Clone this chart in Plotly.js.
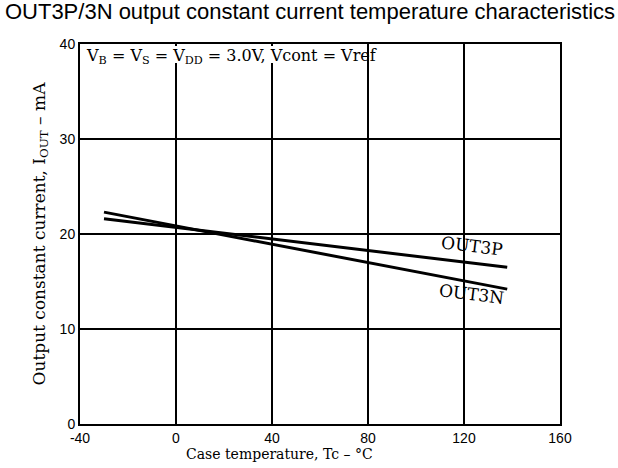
<!DOCTYPE html>
<html><head><meta charset="utf-8">
<script src="https://cdn.plot.ly/plotly-3.0.1.min.js"></script>
<style>body{margin:0;background:#fff}#c{width:618px;height:468px}</style>
</head><body><div id="c"></div>
<script>
const temps = [-30, 138];
const out3p = [21.6, 16.5];
const out3n = [22.3, 14.2];
const xTicks = [-40, 0, 40, 80, 120, 160];
const yTicks = [0, 10, 20, 30, 40];

const serif = 'DejaVu Serif, serif';
const sans = 'Liberation Sans, Arial, sans-serif';

const traces = [
  {x: temps, y: out3p, mode: 'lines', line: {color: '#000', width: 3}, name: 'OUT3P'},
  {x: temps, y: out3n, mode: 'lines', line: {color: '#000', width: 3}, name: 'OUT3N'}
];

const layout = {
  width: 618, height: 468,
  margin: {l: 80, r: 58, t: 44, b: 44},
  showlegend: false,
  paper_bgcolor: '#fff', plot_bgcolor: '#fff',
  title: {text: 'OUT3P/3N output constant current temperature characteristics',
    font: {family: sans, size: 22, color: '#000'}, x: 0.008, xanchor: 'left', y: 0.975, yanchor: 'middle'},
  xaxis: {range: [-40, 160], tickvals: xTicks, ticktext: xTicks.map(String), showgrid: true,
    gridcolor: '#000', gridwidth: 1.5, zeroline: false, showline: true, linecolor: '#000', linewidth: 2,
    mirror: true, ticks: '', tickfont: {family: sans, size: 14, color: '#000'}},
  yaxis: {range: [0, 40], tickvals: yTicks, ticktext: yTicks.map(String), showgrid: true,
    gridcolor: '#000', gridwidth: 1.5, zeroline: false, showline: true, linecolor: '#000', linewidth: 2,
    mirror: true, ticks: '', tickfont: {family: sans, size: 14, color: '#000'},
    title: {text: 'Output constant current, I<sub>OUT</sub> – mA', font: {family: serif, size: 17, color: '#000'}, standoff: 10}},
  shapes: [
    {type: 'rect', xref: 'x', yref: 'y', x0: -39.5, x1: 79.3, y0: 38.0, y1: 39.8, fillcolor: '#fff', line: {width: 0}, layer: 'above'}
  ],
  annotations: [
    {xref: 'paper', yref: 'paper', x: 0.415, y: -0.078, xanchor: 'center', yanchor: 'middle', showarrow: false,
     text: 'Case temperature, Tc – °C', font: {family: serif, size: 14, color: '#000'}},
    {xref: 'x', yref: 'y', x: -38.5, y: 40.0, xanchor: 'left', yanchor: 'top', showarrow: false,
     text: 'V<sub>B</sub> = V<sub>S</sub> = V<sub>DD</sub> = 3.0V, Vcont = Vref', font: {family: serif, size: 16, color: '#000'}},
    {xref: 'x', yref: 'y', x: 123.5, y: 18.7, xanchor: 'center', yanchor: 'middle', showarrow: false, textangle: 7,
     text: 'OUT3P', font: {family: serif, size: 17, color: '#000'}},
    {xref: 'x', yref: 'y', x: 123.0, y: 13.7, xanchor: 'center', yanchor: 'middle', showarrow: false, textangle: 7,
     text: 'OUT3N', font: {family: serif, size: 17, color: '#000'}}
  ]
};
Plotly.newPlot('c', traces, layout, {displayModeBar: false, staticPlot: true});
</script></body></html>
